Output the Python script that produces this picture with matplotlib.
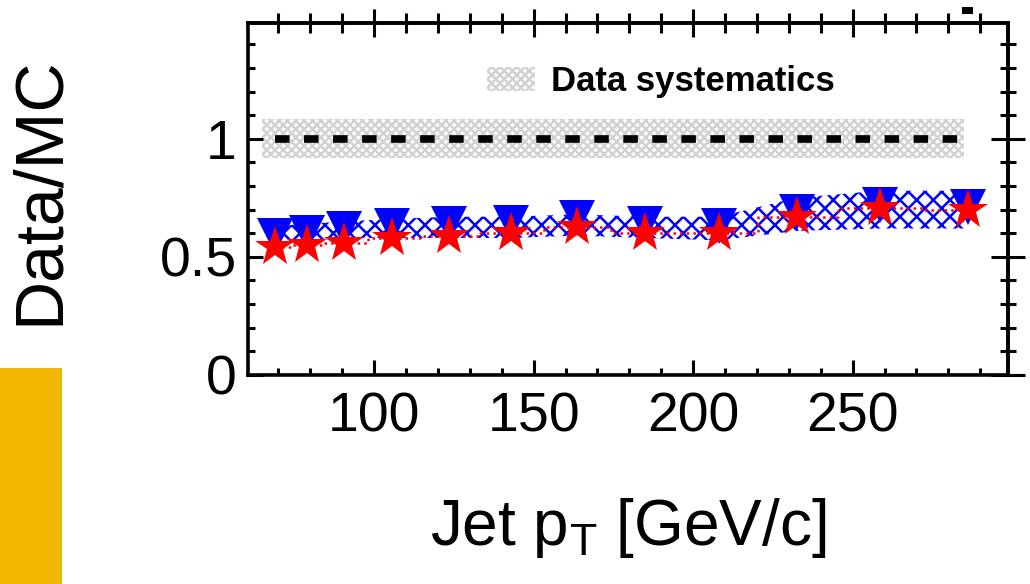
import numpy as np
import matplotlib
matplotlib.use("Agg")
import matplotlib.pyplot as plt
from matplotlib.patches import Patch, Rectangle
from matplotlib.ticker import MultipleLocator

plt.rcParams['font.family'] = ['Liberation Sans', 'DejaVu Sans']
plt.rcParams['mathtext.fontset'] = 'custom'
plt.rcParams['mathtext.rm'] = 'Liberation Sans'
plt.rcParams['hatch.linewidth'] = 1.8

# jet pT bin edges and the ratios
pt_edges = [64, 74, 84, 97, 114, 133, 153, 174, 196, 220, 245, 272, 300]
ratio_triangle = [0.59, 0.60, 0.62, 0.63, 0.64, 0.645, 0.665, 0.64, 0.63, 0.69, 0.72, 0.71]
ratio_star = [0.54, 0.55, 0.56, 0.58, 0.59, 0.60, 0.625, 0.60, 0.60, 0.67, 0.705, 0.70]
band_lo = [0.56, 0.57, 0.58, 0.58, 0.58, 0.58, 0.59, 0.58, 0.57, 0.61, 0.62, 0.62]
band_hi = [0.63, 0.64, 0.65, 0.66, 0.67, 0.67, 0.68, 0.67, 0.67, 0.75, 0.78, 0.78]
syst_x = [65, 285]
syst_lo = [0.92, 0.92]
syst_hi = [1.085, 1.085]

pt = 0.5 * (np.array(pt_edges[:-1]) + np.array(pt_edges[1:]))

fig = plt.figure(figsize=(10.30, 5.84), dpi=100)
ax = fig.add_axes([0.2408, 0.3579, 0.7379, 0.6027])

# data systematics band around unity
ax.fill_between(syst_x, syst_lo, syst_hi, facecolor='none', edgecolor='#d2d2d2',
                hatch='xxxx', linewidth=0, zorder=1)
ax.hlines(1.0, pt[0], pt[-1], colors='black', linestyles=(0, (1.9, 1.9)),
          linewidth=5.5, zorder=2)

# MC band
ax.fill_between(pt, band_lo, band_hi, facecolor='none', edgecolor='blue',
                hatch='xx', linewidth=0, zorder=2)

ax.step(pt, ratio_star, where='mid', color='red', linestyle=':', linewidth=1.8, zorder=3)
ax.plot(pt, ratio_triangle, linestyle='none', marker='v', markersize=26,
        color='blue', markeredgewidth=0, zorder=4)
ax.plot(pt, ratio_star, linestyle='none', marker='*', markersize=30,
        color='red', markeredgewidth=0, zorder=5)

ax.set_xlim(60.5, 298.7)
ax.set_ylim(0, 1.49)

ax.xaxis.set_major_locator(MultipleLocator(50))
ax.xaxis.set_minor_locator(MultipleLocator(10))
ax.yaxis.set_major_locator(MultipleLocator(0.5))
ax.yaxis.set_minor_locator(MultipleLocator(0.1))
ax.set_yticks([0, 0.5, 1])
ax.set_yticklabels(['0', '0.5', '1'])

for s in ax.spines.values():
    s.set_linewidth(2.6)

ax.tick_params(which='both', direction='in', width=2.2, labelsize=40, top=False, right=False)
ax.tick_params(which='major', length=11)
ax.tick_params(which='minor', length=5)
ax.tick_params(axis='x', pad=12)
ax.tick_params(axis='y', pad=8)

# top and right ticks poke out on both sides
top = ax.secondary_xaxis('top')
top.xaxis.set_major_locator(MultipleLocator(50))
top.xaxis.set_minor_locator(MultipleLocator(10))
top.tick_params(which='both', direction='inout', width=2.2, labeltop=False)
top.tick_params(which='major', length=20)
top.tick_params(which='minor', length=15)
top.spines['top'].set_linewidth(2.6)

right = ax.secondary_yaxis('right')
right.yaxis.set_major_locator(MultipleLocator(0.5))
right.yaxis.set_minor_locator(MultipleLocator(0.1))
right.tick_params(which='both', direction='inout', width=2.2, labelright=False)
right.tick_params(which='major', length=24)
right.tick_params(which='minor', length=11)
right.spines['right'].set_linewidth(2.6)

ax.set_xlabel(r'Jet $\mathregular{p_{T}}$ [GeV/c]', fontsize=46, labelpad=38)
ax.set_ylabel('Data/MC', fontsize=49)
ax.yaxis.set_label_coords(-0.232, 0.525)

leg = ax.legend(handles=[Patch(facecolor='none', edgecolor='#d2d2d2', hatch='xxxx',
                               linewidth=0, label='Data systematics')],
                loc='upper left', bbox_to_anchor=(0.314, 0.88), frameon=False,
                borderpad=0, borderaxespad=0, handlelength=1.4, handleheight=0.7,
                handletextpad=0.45, prop={'size': 25, 'weight': 'bold'})

# pieces of neighbouring panels at the crop edge
fig.patches.append(Rectangle((0, 0), 62 / 1030, 216 / 584, transform=fig.transFigure,
                             facecolor='#f2b700', edgecolor='none'))
fig.patches.append(Rectangle((962 / 1030, 1 - 14 / 584), 11 / 1030, 7 / 584,
                             transform=fig.transFigure, facecolor='black', edgecolor='none'))

fig.savefig('out.png', dpi=100)
